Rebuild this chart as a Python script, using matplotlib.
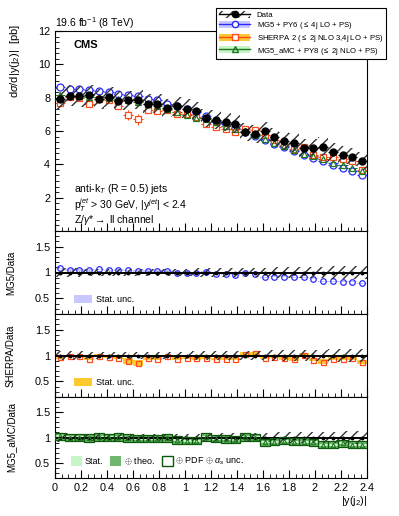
import numpy as np
import matplotlib.pyplot as plt
from matplotlib.patches import Patch
from matplotlib.lines import Line2D
from matplotlib.ticker import MultipleLocator, FormatStrFormatter

plt.rcParams['font.family'] = ['Liberation Sans', 'DejaVu Sans']
plt.rcParams['mathtext.fontset'] = 'custom'
plt.rcParams['mathtext.rm'] = 'Liberation Sans'
plt.rcParams['mathtext.it'] = 'Liberation Sans:italic'
plt.rcParams['mathtext.sf'] = 'Liberation Sans'
plt.rcParams['hatch.linewidth'] = 1.0

# 32 bins of |y(j2)| between 0 and 2.4
y_lo = [0.0, 0.075, 0.15, 0.225, 0.3, 0.375, 0.45, 0.525, 0.6, 0.675, 0.75, 0.825,
        0.9, 0.975, 1.05, 1.125, 1.2, 1.275, 1.35, 1.425, 1.5, 1.575, 1.65, 1.725,
        1.8, 1.875, 1.95, 2.025, 2.1, 2.175, 2.25, 2.325]
bin_w = 0.075

data = [7.92, 8.12, 8.08, 8.14, 7.92, 8.02, 7.82, 7.84, 7.88, 7.64, 7.64, 7.36,
        7.48, 7.33, 7.18, 6.77, 6.69, 6.53, 6.41, 5.95, 5.83, 5.99, 5.65, 5.41,
        5.31, 4.97, 4.97, 5.06, 4.73, 4.58, 4.42, 4.22]
data_unc = [0.085, 0.08, 0.078, 0.076, 0.075, 0.074, 0.073, 0.072, 0.072, 0.072, 0.073, 0.074,
            0.075, 0.077, 0.079, 0.081, 0.083, 0.085, 0.087, 0.09, 0.093, 0.096, 0.099, 0.102,
            0.105, 0.108, 0.111, 0.114, 0.117, 0.12, 0.123, 0.126]

mg5 = [8.62, 8.55, 8.50, 8.47, 8.40, 8.34, 8.24, 8.17, 8.10, 7.95, 7.85, 7.65,
       7.50, 7.30, 7.12, 6.88, 6.62, 6.40, 6.18, 5.95, 5.72, 5.48, 5.24, 5.02,
       4.82, 4.58, 4.38, 4.18, 3.96, 3.78, 3.58, 3.34]
sherpa = [7.68, 8.04, 8.00, 7.65, 7.92, 7.86, 7.51, 6.98, 6.70, 7.26, 7.18, 7.29,
          7.03, 7.04, 6.82, 6.43, 6.22, 6.14, 5.96, 6.13, 6.06, 5.75, 5.48, 5.14,
          4.94, 5.02, 4.57, 4.45, 4.45, 4.31, 4.20, 3.67]
sherpa_err = [0.08, 0.06, 0.06, 0.1, 0.06, 0.06, 0.12, 0.3, 0.32, 0.08, 0.08, 0.06,
              0.08, 0.06, 0.08, 0.06, 0.06, 0.06, 0.06, 0.06, 0.08, 0.06, 0.06, 0.06,
              0.08, 0.06, 0.08, 0.1, 0.06, 0.06, 0.06, 0.08]
amc = [8.15, 8.12, 8.08, 8.05, 8.02, 7.98, 7.92, 7.84, 7.74, 7.60, 7.48, 7.32,
       7.14, 6.96, 6.78, 6.70, 6.52, 6.32, 6.14, 5.98, 5.78, 5.52, 5.28, 5.08,
       4.88, 4.64, 4.48, 4.30, 4.10, 3.96, 3.78, 3.62]

r_mg5 = [1.08, 1.05, 1.05, 1.05, 1.06, 1.04, 1.05, 1.04, 1.03, 1.03, 1.03, 1.03,
         1.0, 0.99, 0.99, 1.01, 0.98, 0.97, 0.96, 1.0, 0.98, 0.91, 0.92, 0.92,
         0.91, 0.91, 0.88, 0.83, 0.83, 0.82, 0.82, 0.79]
r_mg5_stat = [0.012] * 32
r_sherpa = [0.97, 0.99, 0.99, 0.94, 1.0, 0.98, 0.96, 0.89, 0.85, 0.95, 0.94, 0.99,
            0.94, 0.96, 0.95, 0.95, 0.93, 0.94, 0.93, 1.03, 1.04, 0.96, 0.97, 0.95,
            0.93, 1.01, 0.92, 0.88, 0.94, 0.94, 0.95, 0.87]
r_sherpa_stat = [0.03, 0.025, 0.025, 0.03, 0.025, 0.025, 0.035, 0.06, 0.06, 0.03, 0.03, 0.025,
                 0.03, 0.025, 0.03, 0.025, 0.025, 0.025, 0.025, 0.03, 0.035, 0.03, 0.025, 0.03,
                 0.035, 0.03, 0.035, 0.045, 0.03, 0.03, 0.03, 0.035]
r_amc = [1.02, 1.0, 1.0, 0.99, 1.01, 1.0, 1.01, 0.99, 0.98, 0.98, 0.98, 0.99,
         0.95, 0.94, 0.94, 1.01, 0.98, 0.97, 0.96, 1.01, 1.0, 0.91, 0.92, 0.94,
         0.92, 0.92, 0.91, 0.86, 0.86, 0.89, 0.86, 0.86]
r_amc_stat = [0.02] * 32
r_amc_theo = [0.055] * 32
r_amc_pdf = [0.07] * 32

blue = '#2a2aff'
red = '#ff4a1a'
orange = '#ffc830'
green = '#1f7a1f'
lgreen = '#c8f5c8'
mgreen = '#6fb66f'
hatch_col = '#333333'

xc = np.array(y_lo) + bin_w / 2
edges = np.append(np.array(y_lo), 2.4)
hw = bin_w / 2

fig = plt.figure(figsize=(3.99, 5.16), dpi=100)
W, H = 399.0, 516.0
def add(top, bot):
    return fig.add_axes([55 / W, 1 - bot / H, 312 / W, (bot - top) / H])
ax = add(31, 231)
ax1 = add(231, 314)
ax2 = add(314, 397)
ax3 = add(397, 478)

def style(a):
    a.tick_params(which='both', direction='in', top=False, right=False, labelsize=7.8)
    a.tick_params(which='major', length=6)
    a.tick_params(which='minor', length=3)
    a.set_xlim(0, 2.4)
    a.xaxis.set_major_locator(MultipleLocator(0.2))
    a.xaxis.set_minor_locator(MultipleLocator(0.05))
    for s in a.spines.values():
        s.set_linewidth(0.8)

def band(a, lo, hi, z):
    lo = np.append(lo, lo[-1])
    hi = np.append(hi, hi[-1])
    a.fill_between(edges, lo, hi, step='post', facecolor='none', edgecolor=hatch_col,
                   hatch='///', linewidth=0, zorder=z)

d = np.array(data)
du = np.array(data_unc)

# main panel
style(ax)
ax.errorbar(xc, mg5, xerr=hw, fmt='o', ms=5, mfc='white', mec=blue, ecolor=blue,
            elinewidth=0.8, mew=0.9, zorder=2)
ax.errorbar(xc, sherpa, xerr=hw, yerr=sherpa_err, fmt='s', ms=4.5, mfc='white', mec=red,
            ecolor=red, elinewidth=0.8, mew=0.9, zorder=2)
ax.errorbar(xc, amc, xerr=hw, fmt='^', ms=4.5, mfc='none', mec=green, ecolor=green,
            elinewidth=0.8, mew=0.9, zorder=2)
band(ax, d * (1 - du), d * (1 + du), 3)
ax.errorbar(xc, data, xerr=hw, yerr=0.05, fmt='o', ms=5, color='black',
            elinewidth=0.9, zorder=4)
ax.set_ylim(0, 12)
ax.yaxis.set_minor_locator(MultipleLocator(2 / 6))
ax.set_yticks([2, 4, 6, 8, 10, 12])
ax.tick_params(labelbottom=False)
ax.text(0.06, 0.955, 'CMS', transform=ax.transAxes, fontsize=8, fontweight='bold', va='top')
ax.text(0.06, 0.21, 'anti-k$_{T}$ (R = 0.5) jets', transform=ax.transAxes, fontsize=7.5, va='center')
ax.text(0.06, 0.13, 'p$_{T}^{jet}$ > 30 GeV, |y$^{jet}$| < 2.4', transform=ax.transAxes,
        fontsize=7.5, va='center')
ax.text(0.06, 0.055, 'Z/$\\gamma$*$\\rightarrow$ ll channel', transform=ax.transAxes,
        fontsize=7.5, va='center')
fig.text(55 / W, 1 - 27 / H, '19.6 fb$^{-1}$ (8 TeV)', fontsize=7.5, ha='left', va='baseline')
fig.text(15 / W, 1 - 24 / H, 'd$\\sigma$/d|y(j$_{2}$)|  [pb]', rotation=90, fontsize=8,
         ha='center', va='top')

handles = [
    (Patch(facecolor='white', edgecolor=hatch_col, hatch='///', linewidth=0),
     Line2D([], [], color='black', marker='o', ms=4.5, lw=1)),
    (Patch(facecolor='#c8c8ff', linewidth=0),
     Line2D([], [], color=blue, marker='o', ms=4.5, mfc='white', lw=1)),
    (Patch(facecolor=orange, linewidth=0),
     Line2D([], [], color=red, marker='s', ms=4, mfc='white', lw=1)),
    (Patch(facecolor=lgreen, linewidth=0),
     Line2D([], [], color=green, marker='^', ms=4, mfc='none', lw=1)),
]
labels = ['Data', 'MG5 + PY6 ($\\leq$ 4j LO + PS)', 'SHERPA 2 ($\\leq$ 2j NLO 3,4j LO + PS)',
          'MG5_aMC + PY8 ($\\leq$ 2j NLO + PS)']
leg = fig.legend(handles, labels, loc='upper right', bbox_to_anchor=(386 / W, 1 - 8 / H),
                 fontsize=5.6, frameon=True, fancybox=False, edgecolor='black',
                 framealpha=1, borderpad=0.35, handlelength=4.1, handleheight=1.0,
                 labelspacing=0.2, handletextpad=0.8, borderaxespad=0)
leg.get_frame().set_linewidth(0.8)

def ratio_common(a, label):
    style(a)
    a.set_ylim(0.2, 1.8)
    a.set_yticks([0.5, 1, 1.5])
    a.yaxis.set_major_formatter(FormatStrFormatter('%g'))
    a.yaxis.set_minor_locator(MultipleLocator(0.1))
    a.set_ylabel(label, fontsize=7)
    a.yaxis.set_label_coords(-0.125, 0.5)

def boxes(a, r, e, **kw):
    r = np.array(r)
    e = np.array(e)
    a.bar(xc, 2 * e, bottom=r - e, width=bin_w, align='center', **kw)

def data_line(a):
    band(a, 1 - du, 1 + du, 4)
    a.errorbar(xc, [1] * 32, xerr=hw, fmt='o', ms=1.8, color='black', elinewidth=1.4, zorder=5)

# MG5 ratio
ratio_common(ax1, 'MG5/Data')
boxes(ax1, r_mg5, r_mg5_stat, color='#c8c8ff', linewidth=0, zorder=2)
ax1.plot(xc, r_mg5, 'o', ms=4, mfc='none', mec=blue, mew=0.9, zorder=3)
data_line(ax1)
ax1.tick_params(labelbottom=False)
ax1.legend([Patch(facecolor='#c8c8ff', linewidth=0)], ['Stat. unc.'], loc='lower left',
           bbox_to_anchor=(0.035, 0.02), frameon=False, fontsize=6.5, handlelength=2.0,
           handleheight=1.1, handletextpad=0.4)

# SHERPA ratio
ratio_common(ax2, 'SHERPA/Data')
boxes(ax2, r_sherpa, r_sherpa_stat, color=orange, linewidth=0, zorder=2)
ax2.plot(xc, r_sherpa, 's', ms=3.6, mfc='none', mec=red, mew=0.9, zorder=3)
data_line(ax2)
ax2.tick_params(labelbottom=False)
ax2.legend([Patch(facecolor=orange, linewidth=0)], ['Stat. unc.'], loc='lower left',
           bbox_to_anchor=(0.035, 0.02), frameon=False, fontsize=6.5, handlelength=2.0,
           handleheight=1.1, handletextpad=0.4)

# MG5_aMC ratio
ratio_common(ax3, 'MG5_aMC/Data')
boxes(ax3, r_amc, r_amc_pdf, facecolor=mgreen, edgecolor='none', zorder=2)
boxes(ax3, r_amc, r_amc_theo, facecolor=mgreen, edgecolor='none', zorder=2)
boxes(ax3, r_amc, r_amc_stat, facecolor=lgreen, edgecolor='none', zorder=2)
boxes(ax3, r_amc, r_amc_pdf, facecolor='none', edgecolor='#0a5a0a', linewidth=0.9, zorder=6)
ax3.plot(xc, r_amc, '^', ms=3.2, mfc='none', mec=green, mew=0.8, zorder=6)
data_line(ax3)
ax3.set_xticks(np.arange(0, 2.41, 0.2))
ax3.xaxis.set_major_formatter(FormatStrFormatter('%g'))
ax3.legend([Patch(facecolor=lgreen, linewidth=0), Patch(facecolor=mgreen, linewidth=0),
            Patch(facecolor='white', edgecolor='#0a5a0a', linewidth=1.0)],
           ['Stat.', '$\\oplus$ theo.', '$\\oplus$ PDF $\\oplus$ $\\alpha_{s}$ unc.'],
           loc='lower left', bbox_to_anchor=(0.025, 0.03), frameon=False, fontsize=6.5,
           ncol=3, handlelength=1.2, handleheight=1.3, handletextpad=0.3, columnspacing=0.8)
ax3.set_xlabel('|y(j$_{2}$)|', fontsize=7.8, loc='right', labelpad=1)

fig.savefig('out.png', dpi=100)
